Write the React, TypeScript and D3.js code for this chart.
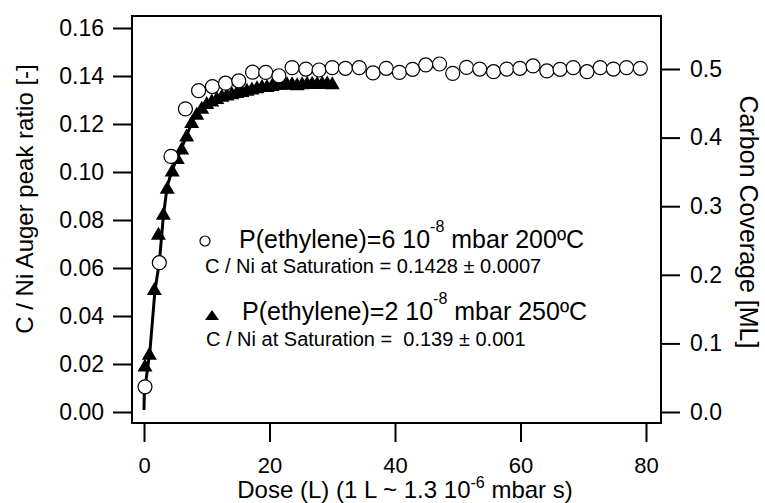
import React, { useEffect, useRef } from 'react';
import * as d3 from 'd3';

// open circles: P(ethylene)=6e-8 mbar, 200 C
const circleDose = [0.16, 2.44, 4.3, 6.6, 8.7, 10.9, 13.0, 15.1, 17.3, 19.4, 21.5, 23.6, 25.8, 27.9, 30.0, 32.1, 34.3, 36.5, 38.6, 40.7, 42.8, 44.9, 47.1, 49.2, 51.4, 53.5, 55.7, 57.8, 59.9, 62.0, 64.2, 66.3, 68.4, 70.6, 72.7, 74.8, 76.9, 79.1];
const circleRatio = [0.0105, 0.0622, 0.1065, 0.1263, 0.1339, 0.1356, 0.1370, 0.1380, 0.1416, 0.1415, 0.1401, 0.1435, 0.1429, 0.1425, 0.1435, 0.1432, 0.1435, 0.1413, 0.1432, 0.1415, 0.1428, 0.1446, 0.1450, 0.1411, 0.1436, 0.1429, 0.1418, 0.1429, 0.1432, 0.1442, 0.1421, 0.1428, 0.1435, 0.1418, 0.1435, 0.1429, 0.1435, 0.1432];

// filled triangles: P(ethylene)=2e-8 mbar, 250 C
const triDose = [0.16, 0.85, 1.64, 2.3, 3.08, 3.7, 4.5, 5.3, 6.0, 6.8, 7.6, 8.4, 9.2, 10.0, 10.8, 11.6, 12.4, 13.2, 14.0, 14.8, 15.6, 16.4, 17.2, 18.0, 18.8, 19.6, 20.4, 21.2, 22.0, 22.8, 23.6, 24.4, 25.2, 26.0, 26.8, 27.6, 28.4, 29.2, 30.0];
const triRatio = [0.0196, 0.0245, 0.0515, 0.0745, 0.0828, 0.0936, 0.1008, 0.106, 0.110, 0.1154, 0.121, 0.1245, 0.127, 0.129, 0.130, 0.131, 0.132, 0.1325, 0.133, 0.1335, 0.134, 0.1345, 0.135, 0.1355, 0.136, 0.136, 0.1365, 0.137, 0.137, 0.1372, 0.1372, 0.1368, 0.1372, 0.1374, 0.1374, 0.1373, 0.1375, 0.1375, 0.1372];

// black line through the early uptake
const fitDose = [0, 0.05, 0.96, 1.75, 2.44, 3.1, 3.7, 4.5, 6, 8, 10, 15, 20, 25, 30];
const fitRatio = [0.0008, 0.008, 0.0258, 0.0508, 0.0622, 0.082, 0.094, 0.101, 0.110, 0.123, 0.129, 0.134, 0.1365, 0.1372, 0.1375];

const xTicks = [0, 20, 40, 60, 80];
const ratioTicks = [0, 0.02, 0.04, 0.06, 0.08, 0.1, 0.12, 0.14, 0.16];
const coverageTicks = [0, 0.1, 0.2, 0.3, 0.4, 0.5];

const FONT = "'Liberation Sans', Arial, Helvetica, sans-serif";

const App: React.FC = () => {
  const ref = useRef<SVGSVGElement>(null);

  useEffect(() => {
    drawChart();
  }, []);

  const drawChart = () => {
    const svg = d3.select(ref.current);
    svg.selectAll('*').remove();

    const left = 132, right = 661, top = 16, bottom = 423;

    const x = d3.scaleLinear().domain([0, 80]).range([144, 646]);
    const y = d3.scaleLinear().domain([0, 0.16]).range([412, 28]);
    const yR = d3.scaleLinear().domain([0, 0.5]).range([412, 69]);

    const styleAxis = (size: number) => (g: any) => {
      g.select('.domain').remove();
      g.attr('font-size', size).attr('font-family', FONT);
      g.selectAll('line').attr('stroke', '#000').attr('stroke-width', 2);
      g.selectAll('text').attr('fill', '#000');
    };

    // left axis
    svg.append('g')
      .attr('transform', `translate(${left},0)`)
      .call(d3.axisLeft(y).tickValues(ratioTicks).tickFormat(d3.format('.2f')).tickSize(19).tickPadding(9).tickSizeOuter(0))
      .call(styleAxis(23));

    // right axis
    svg.append('g')
      .attr('transform', `translate(${right},0)`)
      .call(d3.axisRight(yR).tickValues(coverageTicks).tickFormat(d3.format('.1f')).tickSize(19).tickPadding(10).tickSizeOuter(0))
      .call(styleAxis(23));

    // bottom axis
    svg.append('g')
      .attr('transform', `translate(0,${bottom})`)
      .call(d3.axisBottom(x).tickValues(xTicks).tickFormat(d3.format('d')).tickSize(19).tickPadding(15).tickSizeOuter(0))
      .call(styleAxis(22));

    // line
    const line = d3.line<number>()
      .x(i => x(fitDose[i]))
      .y(i => y(fitRatio[i]));
    svg.append('path')
      .attr('d', line(d3.range(fitDose.length)))
      .attr('fill', 'none')
      .attr('stroke', '#000')
      .attr('stroke-width', 3);

    // triangles
    svg.append('g')
      .selectAll('path')
      .data(d3.range(triDose.length))
      .enter().append('path')
      .attr('d', i => {
        const cx = x(triDose[i]), cy = y(triRatio[i]);
        return `M${cx},${cy - 6.5}L${cx + 7.5},${cy + 6.5}L${cx - 7.5},${cy + 6.5}Z`;
      })
      .attr('fill', '#000');

    // circles
    svg.append('g')
      .selectAll('circle')
      .data(d3.range(circleDose.length))
      .enter().append('circle')
      .attr('cx', i => x(circleDose[i]))
      .attr('cy', i => y(circleRatio[i]))
      .attr('r', 7)
      .attr('fill', '#fff')
      .attr('stroke', '#000')
      .attr('stroke-width', 1.2);

    // frame
    svg.append('rect')
      .attr('x', left).attr('y', top)
      .attr('width', right - left).attr('height', bottom - top)
      .attr('fill', 'none').attr('stroke', '#000').attr('stroke-width', 2);

    // axis titles
    svg.append('text')
      .attr('transform', 'translate(33,199) rotate(-90)')
      .attr('text-anchor', 'middle')
      .attr('font-family', FONT).attr('font-size', 24)
      .text('C / Ni Auger peak ratio [-]');

    svg.append('text')
      .attr('transform', 'translate(740,222) rotate(90)')
      .attr('text-anchor', 'middle')
      .attr('font-family', FONT).attr('font-size', 25)
      .text('Carbon Coverage [ML]');

    const xt = svg.append('text')
      .attr('x', 405).attr('y', 498)
      .attr('text-anchor', 'middle')
      .attr('font-family', FONT).attr('font-size', 24);
    xt.append('tspan').text('Dose (L) (1 L ~ 1.3 10');
    xt.append('tspan').attr('font-size', 16).attr('dy', -10).text('-6');
    xt.append('tspan').attr('dy', 10).text(' mbar s)');

    // legend
    svg.append('circle')
      .attr('cx', 205).attr('cy', 241).attr('r', 5)
      .attr('fill', '#fff').attr('stroke', '#000').attr('stroke-width', 1.2);
    const l1 = svg.append('text')
      .attr('x', 239).attr('y', 248)
      .attr('font-family', FONT).attr('font-size', 25);
    l1.append('tspan').text('P(ethylene)=6 10');
    l1.append('tspan').attr('font-size', 16).attr('dy', -16).text('-8');
    l1.append('tspan').attr('dy', 16).text(' mbar 200ºC');
    svg.append('text')
      .attr('x', 205).attr('y', 273)
      .attr('font-family', FONT).attr('font-size', 20)
      .style('white-space', 'pre')
      .text('C / Ni at Saturation = 0.1428 ± 0.0007');

    svg.append('path')
      .attr('d', 'M212,310L219,320L205,320Z')
      .attr('fill', '#000');
    const l2 = svg.append('text')
      .attr('x', 242).attr('y', 320)
      .attr('font-family', FONT).attr('font-size', 25);
    l2.append('tspan').text('P(ethylene)=2 10');
    l2.append('tspan').attr('font-size', 16).attr('dy', -16).text('-8');
    l2.append('tspan').attr('dy', 16).text(' mbar 250ºC');
    svg.append('text')
      .attr('x', 206).attr('y', 346)
      .attr('font-family', FONT).attr('font-size', 20)
      .style('white-space', 'pre')
      .text('C / Ni at Saturation =  0.139 ± 0.001');
  };

  return (
    <svg
      ref={ref}
      width={765}
      height={503}
      style={{ position: 'absolute', left: 0, top: 0, background: '#fff' }}
    />
  );
};

export default App;
